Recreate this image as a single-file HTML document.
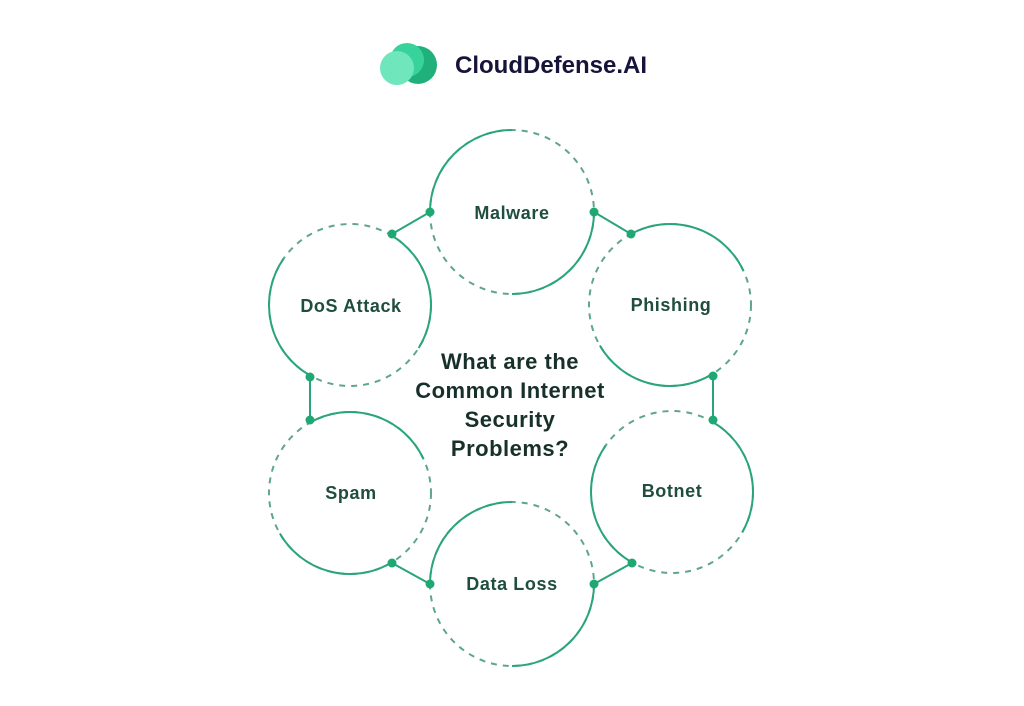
<!DOCTYPE html>
<html><head><meta charset="utf-8"><style>
html,body{margin:0;padding:0;background:#fff;width:1024px;height:706px;overflow:hidden}
svg{position:absolute;left:0;top:0}
text{font-family:"Liberation Sans",sans-serif;font-weight:bold}
</style></head><body>
<svg id="s" width="1024" height="706" viewBox="0 0 1024 706">
<circle cx="418" cy="65" r="19" fill="#1fb07c"/>
<circle cx="407" cy="60" r="17" fill="#38d39a"/>
<circle cx="397" cy="68" r="17" fill="#6fe6bb"/>
<text x="455" y="73" font-size="24" fill="#17143a">CloudDefense.AI</text>
<g id="g" fill="none" stroke-width="2"></g>
<g font-size="18" fill="#1f4d3f" text-anchor="middle" letter-spacing="0.6">
<text x="512" y="219">Malware</text>
<text x="671" y="311">Phishing</text>
<text x="672" y="497">Botnet</text>
<text x="512" y="590">Data Loss</text>
<text x="351" y="499">Spam</text>
<text x="351" y="312">DoS Attack</text>
</g>
<g font-size="22" fill="#17302a" text-anchor="middle" letter-spacing="0.5">
<text x="510" y="369">What are the</text>
<text x="510" y="398">Common Internet</text>
<text x="510" y="427">Security</text>
<text x="510" y="456">Problems?</text>
</g>
</svg>
<script>
var g=document.getElementById('g'),NS='http://www.w3.org/2000/svg';
function el(t,a){var e=document.createElementNS(NS,t);for(var k in a)e.setAttribute(k,a[k]);g.appendChild(e);return e;}
function arc(cx,cy,r,a1,a2){var p=Math.PI/180,x1=cx+r*Math.cos(a1*p),y1=cy+r*Math.sin(a1*p),x2=cx+r*Math.cos(a2*p),y2=cy+r*Math.sin(a2*p);
el('path',{d:'M'+x1+' '+y1+' A'+r+' '+r+' 0 '+((a2-a1)>180?1:0)+' 1 '+x2+' '+y2,stroke:'#2aa57a'});}
var C=[[512,212,82,[[180,270],[0,90]]],[670,305,81,[[-119,-25],[60,150]]],[672,492,81,[[-60,30],[120,215]]],
[512,584,82,[[180,270],[0,90]]],[350,493,81,[[-120,-25],[60,150]]],[350,305,81,[[-60,32],[120,215]]]];
C.forEach(function(c){el('circle',{cx:c[0],cy:c[1],r:c[2],stroke:'#5fa58e','stroke-dasharray':'6 6'});
c[3].forEach(function(a){arc(c[0],c[1],c[2],a[0],a[1]);});});
var L=[[430,212,392,234],[594,212,631,234],[713,376,713,420],[632,563,594,584],[430,584,392,563],[310,420,310,377]];
L.forEach(function(l){el('line',{x1:l[0],y1:l[1],x2:l[2],y2:l[3],stroke:'#2aa57a'});
el('circle',{cx:l[0],cy:l[1],r:4.5,fill:'#1fa774',stroke:'none'});el('circle',{cx:l[2],cy:l[3],r:4.5,fill:'#1fa774',stroke:'none'});});
</script>
</body></html>
